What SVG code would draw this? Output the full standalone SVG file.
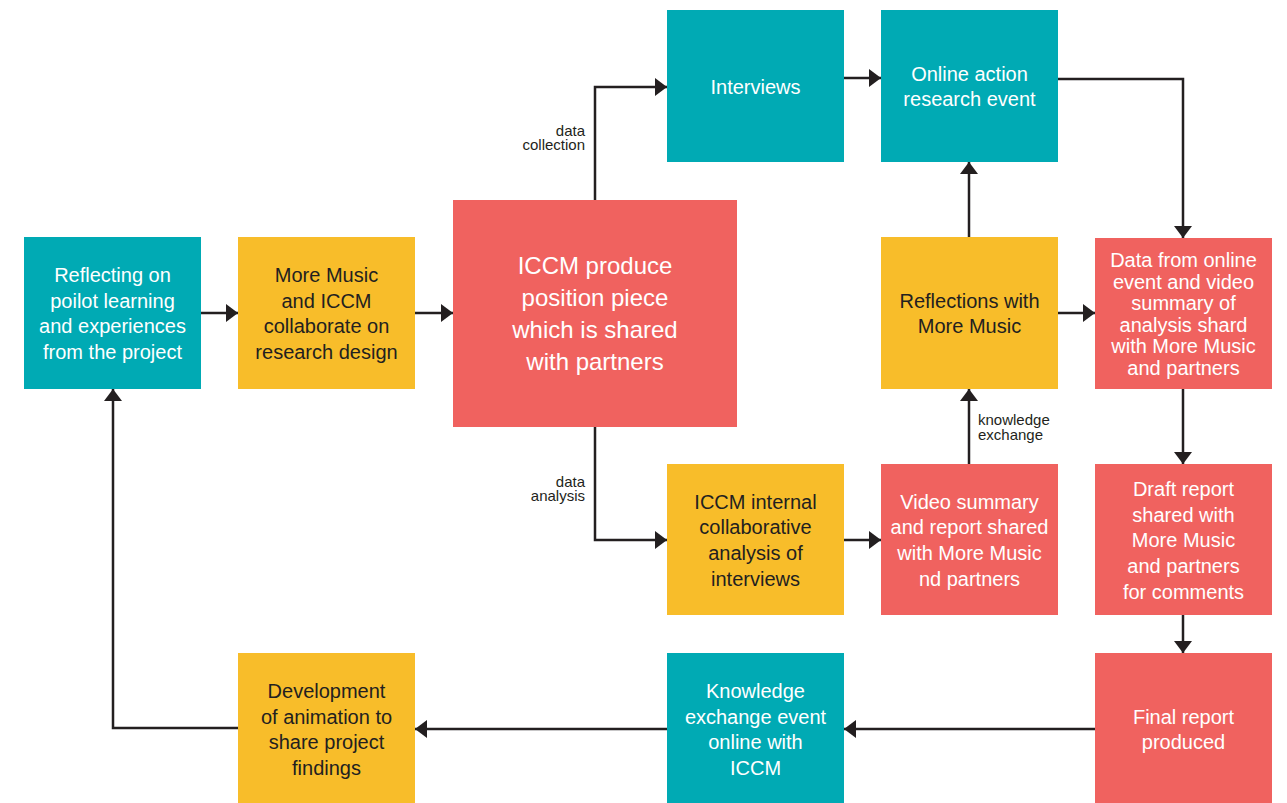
<svg xmlns="http://www.w3.org/2000/svg" width="1287" height="803" viewBox="0 0 1287 803">
<style>
.teal{fill:#00AAB4}
.yel{fill:#F8BD2A}
.red{fill:#F0625F}
text{font-family:"Liberation Sans",Arial,sans-serif;font-size:20px;text-anchor:middle}
.w{fill:#ffffff}
.d{fill:#231F20}
.big{font-size:24px}
.lbl{font-size:15px;fill:#231F20}
.e{text-anchor:end}
.s{text-anchor:start}
.c{fill:none;stroke:#231F20;stroke-width:2.5}
</style>
<defs>
<marker id="ah" viewBox="0 0 12 18" refX="12" refY="9" markerWidth="12" markerHeight="18" markerUnits="userSpaceOnUse" orient="auto">
<path d="M0,0 L12,9 L0,18 Z" fill="#231F20"/>
</marker>
</defs>
<rect width="1287" height="803" fill="#ffffff"/>
<g id="connectors">
<path class="c" d="M201,313 H238" marker-end="url(#ah)"/>
<path class="c" d="M415,313 H453" marker-end="url(#ah)"/>
<path class="c" d="M595,200 V87 H667" marker-end="url(#ah)"/>
<path class="c" d="M844,78 H881" marker-end="url(#ah)"/>
<path class="c" d="M1058,79 H1183 V238" marker-end="url(#ah)"/>
<path class="c" d="M969,237 V162" marker-end="url(#ah)"/>
<path class="c" d="M1058,313 H1095" marker-end="url(#ah)"/>
<path class="c" d="M595,427 V540 H667" marker-end="url(#ah)"/>
<path class="c" d="M844,540 H881" marker-end="url(#ah)"/>
<path class="c" d="M969,464 V389" marker-end="url(#ah)"/>
<path class="c" d="M1183,389 V464" marker-end="url(#ah)"/>
<path class="c" d="M1183,615 V653" marker-end="url(#ah)"/>
<path class="c" d="M1095,729 H844" marker-end="url(#ah)"/>
<path class="c" d="M667,729 H415" marker-end="url(#ah)"/>
<path class="c" d="M238,728 H113 V389" marker-end="url(#ah)"/>
<text class="lbl e" x="585" y="136">data</text>
<text class="lbl e" x="585" y="150">collection</text>
<text class="lbl e" x="585" y="487">data</text>
<text class="lbl e" x="585" y="501">analysis</text>
<text class="lbl s" x="978" y="425">knowledge</text>
<text class="lbl s" x="978" y="440">exchange</text>
</g>
<g id="n-reflecting">
<rect class="teal" x="24" y="237" width="177" height="152"/>
<text class="w" x="112.5" y="282">Reflecting on</text>
<text class="w" x="112.5" y="308">poilot learning</text>
<text class="w" x="112.5" y="333">and experiences</text>
<text class="w" x="112.5" y="359">from the project</text>
</g>
<g id="n-collaborate">
<rect class="yel" x="238" y="237" width="177" height="152"/>
<text class="d" x="326.5" y="282">More Music</text>
<text class="d" x="326.5" y="308">and ICCM</text>
<text class="d" x="326.5" y="333">collaborate on</text>
<text class="d" x="326.5" y="359">research design</text>
</g>
<g id="n-position">
<rect class="red" x="453" y="200" width="284" height="227"/>
<text class="w big" x="595" y="274">ICCM produce</text>
<text class="w big" x="595" y="306">position piece</text>
<text class="w big" x="595" y="338">which is shared</text>
<text class="w big" x="595" y="370">with partners</text>
</g>
<g id="n-interviews">
<rect class="teal" x="667" y="10" width="177" height="152"/>
<text class="w" x="755.5" y="94">Interviews</text>
</g>
<g id="n-online">
<rect class="teal" x="881" y="10" width="177" height="152"/>
<text class="w" x="969.5" y="81">Online action</text>
<text class="w" x="969.5" y="106">research event</text>
</g>
<g id="n-reflections">
<rect class="yel" x="881" y="237" width="177" height="152"/>
<text class="d" x="969.5" y="308">Reflections with</text>
<text class="d" x="969.5" y="333">More Music</text>
</g>
<g id="n-data">
<rect class="red" x="1095" y="238" width="177" height="151"/>
<text class="w" x="1183.5" y="267">Data from online</text>
<text class="w" x="1183.5" y="289">event and video</text>
<text class="w" x="1183.5" y="310">summary of</text>
<text class="w" x="1183.5" y="332">analysis shard</text>
<text class="w" x="1183.5" y="353">with More Music</text>
<text class="w" x="1183.5" y="375">and partners</text>
</g>
<g id="n-internal">
<rect class="yel" x="667" y="464" width="177" height="151"/>
<text class="d" x="755.5" y="509">ICCM internal</text>
<text class="d" x="755.5" y="534">collaborative</text>
<text class="d" x="755.5" y="560">analysis of</text>
<text class="d" x="755.5" y="586">interviews</text>
</g>
<g id="n-video">
<rect class="red" x="881" y="464" width="177" height="151"/>
<text class="w" x="969.5" y="509">Video summary</text>
<text class="w" x="969.5" y="534">and report shared</text>
<text class="w" x="969.5" y="560">with More Music</text>
<text class="w" x="969.5" y="586">nd partners</text>
</g>
<g id="n-draft">
<rect class="red" x="1095" y="464" width="177" height="151"/>
<text class="w" x="1183.5" y="496">Draft report</text>
<text class="w" x="1183.5" y="522">shared with</text>
<text class="w" x="1183.5" y="547">More Music</text>
<text class="w" x="1183.5" y="573">and partners</text>
<text class="w" x="1183.5" y="599">for comments</text>
</g>
<g id="n-final">
<rect class="red" x="1095" y="653" width="177" height="150"/>
<text class="w" x="1183.5" y="724">Final report</text>
<text class="w" x="1183.5" y="749">produced</text>
</g>
<g id="n-knowledge">
<rect class="teal" x="667" y="653" width="177" height="150"/>
<text class="w" x="755.5" y="698">Knowledge</text>
<text class="w" x="755.5" y="724">exchange event</text>
<text class="w" x="755.5" y="749">online with</text>
<text class="w" x="755.5" y="775">ICCM</text>
</g>
<g id="n-animation">
<rect class="yel" x="238" y="653" width="177" height="150"/>
<text class="d" x="326.5" y="698">Development</text>
<text class="d" x="326.5" y="724">of animation to</text>
<text class="d" x="326.5" y="749">share project</text>
<text class="d" x="326.5" y="775">findings</text>
</g>
</svg>
